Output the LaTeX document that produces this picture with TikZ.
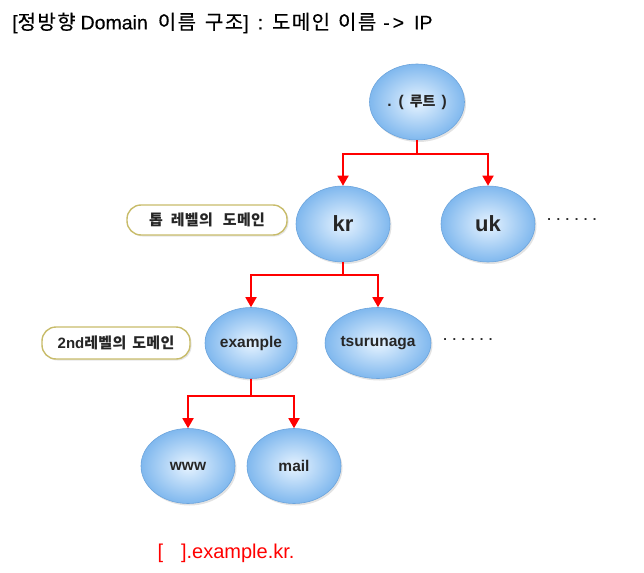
\documentclass[tikz,border=0pt]{standalone}
\usepackage{fontspec}
\setmainfont{Liberation Sans}
\newfontfamily\kr{Noto Sans CJK KR}
\newfontfamily\krt[LetterSpace=7,FakeBold=0.4]{Noto Sans CJK KR}
\newfontfamily\latt[FakeBold=0.4]{Liberation Sans}
\newfontfamily\krlbl[LetterSpace=2]{Noto Sans CJK KR}
\usetikzlibrary{shapes.geometric,shadows,arrows.meta}
\definecolor{edgeblue}{HTML}{6CA4DC}
\definecolor{outblue}{HTML}{80B8EE}
\definecolor{inblue}{HTML}{E6F3FF}
\definecolor{olivebd}{HTML}{C8BC6A}
\definecolor{txtgray}{HTML}{262626}
\begin{document}
\begin{tikzpicture}[x=1pt,y=-1pt,
  dom/.style={ellipse, minimum width=94pt, minimum height=76pt, inner sep=0pt,
    draw=edgeblue, line width=0.6pt, shading=radial, inner color=inblue, outer color=outblue,
    drop shadow={opacity=0.22, shadow xshift=1.5pt, shadow yshift=-2pt},
    text=txtgray, font=\bfseries\fontsize{15.5}{18}\selectfont},
  big/.style={font=\bfseries\fontsize{22}{26}\selectfont},
  lvl/.style={draw=olivebd, line width=1.4pt, fill=white, rounded corners=14pt,
    minimum height=30pt, inner xsep=8pt, text=txtgray,
    font=\bfseries\fontsize{15}{17}\selectfont,
    drop shadow={opacity=0.2, shadow xshift=1.5pt, shadow yshift=-1.5pt}},
  link/.style={draw=red, line width=1.8pt, -{Triangle[length=10pt,width=11pt]}},
  dots/.style={text=txtgray, font=\bfseries\fontsize{13}{15}\selectfont}
]
\useasboundingbox (0,0) rectangle (644,572);

\node[anchor=west, font=\latt\fontsize{19.5}{22}\selectfont, inner sep=0pt] (title) at (12,23)
  {[{\krt\fontsize{20}{22}\selectfont 정방향}\hspace{5pt}Domain\hspace{10pt}{\krt\fontsize{20}{22}\selectfont 이름\hspace{9pt}구조}]\hspace{9pt}:\hspace{9pt}{\krt\fontsize{20}{22}\selectfont 도메인\hspace{8pt}이름}\hspace{7pt}-\hspace{3pt}>\hspace{10pt}IP};

\node[dom, minimum width=95pt] (root) at (417,102)
  {.\hspace{7pt}(\hspace{6pt}{\kr\bfseries\fontsize{14}{16}\selectfont 루트}\hspace{6pt})};
\node[dom, big] (kr) at (343,224) {kr};
\node[dom, big] (uk) at (488,224) {uk};
\node[dots] (ukdots) at (572,220) {.\hspace{5.5pt}.\hspace{5.5pt}.\hspace{5.5pt}.\hspace{5.5pt}.\hspace{5.5pt}.};

\node[dom, minimum width=92pt, minimum height=71pt] (example) at (251,343) {example};
\node[dom, minimum width=92pt, minimum height=71pt] (tsuru) at (378,343) {tsurunaga};
\node[dots] (tsdots) at (468,340) {.\hspace{5.5pt}.\hspace{5.5pt}.\hspace{5.5pt}.\hspace{5.5pt}.\hspace{5.5pt}.};

\node[dom, minimum width=94pt, minimum height=75pt] (www) at (188,466) {www};
\node[dom, minimum width=94pt, minimum height=75pt] (mail) at (294,466) {mail};

\node[lvl, minimum width=160pt] (top) at (207,220) {\krlbl 톱\hspace{8pt}레벨의\hspace{10pt}도메인};
\node[lvl, minimum width=148pt, minimum height=32pt] (second) at (116,343)
  {2nd{\krlbl 레벨의\hspace{6pt}도메인}};

\draw[link] (root.south) -- ++(0,14) -| (kr);
\draw[link] (root.south) -- ++(0,14) -| (uk);
\draw[link] (kr.south) -- ++(0,13) -| (example);
\draw[link] (kr.south) -- ++(0,13) -| (tsuru);
\draw[link] (example.south) -- ++(0,17) -| (www);
\draw[link] (example.south) -- ++(0,17) -| (mail);

\node[text=red, font=\fontsize{20}{24}\selectfont] (fqdn) at (226,553) {[\hspace{18pt}].example.kr.};
\end{tikzpicture}
\end{document}
